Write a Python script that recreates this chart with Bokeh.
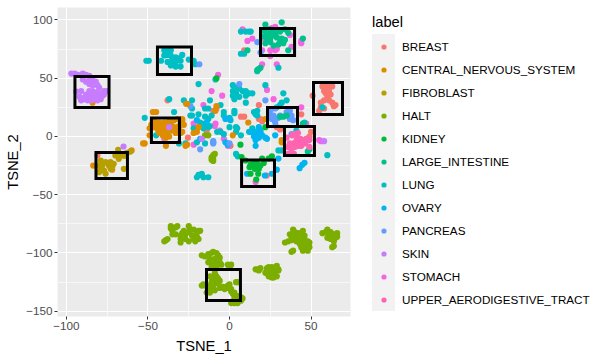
from bokeh.plotting import figure
from bokeh.models import Range1d, FixedTicker, Legend, LegendItem, ColumnDataSource
from bokeh.embed import file_html
from bokeh.resources import INLINE

BREAST = [(51,35),(57,43),(60,43),(63,43),(58,39),(61,39),(60,34),(58,31),(61,31),(63,29),(65,27),(56,29),(56,25),(55,22),(64,26),(58,24),(59,37),(62,36),
          (9,74),(7,17),(9,17),(18,27),(19,15),(18,15),(-10,22),(-18,9),(-25.5,-1),(0.6,-8),(-38,31),(44,19),(29,8),(31,6),(50,4),(49,0),(22.8,-33.5),(-8,24),(-14,5),(20,13),(-81,-16)]
CNS = [(-47,21),(-45,21),(-46,13),(-48,10),(-49,7),(-46,8),(-44,9),(-44,6),(-42,10),(-40,12),(-37,13),(-34,14),(-36,10),(-39,8),(-41,5),(-43,3),(-40,2),(-38,4),(-36,5),(-34,8),(-33,6),(-31,9),(-29,14),(-33,3),(-30,3),(-31,8),(-37,0),(-41,1),(-39,-1),(-49,1),(-35,7),(-42,7),(-38,9),(-43,12),(-52,-6),(-39,-8),(-26,-7),(-32,15),
       (-26.6,28),(-78,35),(-84,29),(-86,46),(-26,28),(-29,15),(-28,10),(-29,4),(-27,-8),(-8,26),(-8.6,22),(-19,8),(-20,4),(-22,3),(2,1),(11.5,12),(22,15),(32,-3),(32,-5),(-72,-28.5),(-64.5,-16.5),(-60,-12),(-53,-6),(-83.6,-25)]
FIBROBLAST = [(-68.3,-11.4),(-70,-16.3),(-66.9,-16.3),(-67.9,-19.2),(-64.8,-16.3),(-79,-20.6),(-76,-22),(-73,-22),(-74,-24.9),(-79,-27.8),(-77,-29.2),(-76,-32),(-73,-27.8),(-80,-30.6),(-64.8,-27.8),(-72,-26.3),(-71,-23.4),(-78,-24.9),(-80,-25),(-61,-13),(-63,-14)]
HALT = [(-40,-90),(-39,-89),(-38,-88),(-36,-77),(-36,-79),(-35,-81),(-33,-78),(-32,-77),(-35,-84),(-33,-84),(-30,-85),(-29,-83),(-28,-81),(-30,-88),(-30,-91),(-27,-84),(-27,-88),(-25,-90),(-25,-82),(-25,-77),(-24,-80),(-23,-85),(-22,-80),(-22,-88),(-20,-82),(-20,-86),(-19,-81),(-18,-81),(-21,-90),(-19,-88),
        (-17,-102),(-15,-103),(-13,-101),(-11,-100),(-10,-99),(-8,-100),(-7,-102),(-6,-104),(-12,-105),(-9,-105),(-7,-106),(-6,-108),(-13,-108),(-10,-109),(-8,-110),(-5,-110),(-11,-112),(-8,-113),(-1,-110),(1,-110),(0,-112),
        (-9,-117),(-8,-120),(-12,-120),(-11,-121),(-9,-123),(-7,-122),(-11,-125),(-9,-126),(-7,-126),(-6,-124),(-17,-128),(-16,-127),(-15,-128),(-12,-128),(-10,-129),(-12,-131),(-9,-132),(-14,-134),(-12,-134),(-6,-130),(-4,-129),(-3,-130),(-1,-128),(-1,-130),(0,-127),(0,-130),(-3,-131),(1,-131),(1,-133),(2,-135),(3,-134),(4,-125),(5,-125),(5,-137),(6,-137),(7,-138),(8,-139),(6,-140),(4,-141),(3,-143),(1,-143),(5,-143),(7,-141),(3,-139),
        (16,-114),(17,-114),(18,-115),(19,-113),(23,-113),(24,-112),(26,-112),(23,-115),(25,-115),(27,-113),(28,-116),(22,-117),(24,-118),(26,-117),(28,-119),(25,-120),(26,-121),(24,-120),(27,-121),(29,-120),(30,-114),(29,-111),(30,-115),
        (34,-91),(36,-90),(38,-89),(38,-86),(37,-84),(39,-85),(39,-80),(40,-82),(41,-87),(41,-90),(43,-85),(43,-88),(44,-83),(45,-81),(46,-85),(46,-88),(44,-92),(46,-92),(48,-90),(49,-91),(48,-94),(46,-96),(44,-95),(45,-98),(48,-98),(49,-95),(38,-99),(39,-98),(43,-92),(42,-83),
        (57,-83),(59,-82),(60,-80),(61,-85),(62,-82),(63,-85),(63,-88),(64,-84),(65,-84),(65,-87),(66,-86),(66,-83),(62,-88),(60,-87),(64,-90),(63,-95),(64,-94),
        (-11,-18),(-10,-19),(-11,-20),(-10,-16),(-9,-15),(-10,-21),(-15,1),(-13,1)]
KIDNEY = [(7.4,-17.7),(9.8,-20.6),(12.3,-26.3),(14.9,-23.5),(17,-23.5),(20,-19),(21,-22.7),(24,-19),(26,-17),(15.5,-27.8),(17.6,-32),(16.4,-37),(12.9,-32),(18,-27.8),(6.7,-7),(-8,50),(22,8),(16,-25),(13,-24),(19,-25)]
LARGE_INTESTINE = [(22,96),(32,98),(21,91),(23,90),(25,88),(28,88),(31,90),(34,92),(36,89),(23,87),(29,85),(32,84),(31,81),(33,80),(30,79),(23,84),(25,81),(27,78),(36,74),(22,80),(45,84),(11,74),(18,58),(17,57),(19,59),(25,84),(27,87),(34,83),(24,92),(27,91),(21,86),
                   (33,17),(35,18),(31,17),(45,11),(49,-11),(48,-13)]
LUNG = [(-51,65),(-49.5,65),(-42,65),(-40,74),(-38,74),(-36,74),(-40,69.5),(-38,70),(-36,69.5),(-35,67),(-33,68),(-31,67),(-29,70),(-38,64),(-35,64),(-33,64),(-30,65),(-36,61),(-33,60),(-30,60),(-25,66),(-22,65),(-21,62),(-19,45),(-37,32),(-28,31),(-23,31),(-23,24),(-24,18),(-34,21),(-52,16),(-45,1),(-31,-6),(-27,-6),(-19,-33),
        (7,90),(10,90),(12,90),(13,90),(7,71),(9,71),(17,56),(30,59),(-8.6,49),(2,44),(4,42),(6,41),(2,39),(2,35),(4,37),(6,34),(3,32),(8,39),(10,39),(10,35),(12,37),(14,37),(10,29),(22,44),(33,37),(35,31),(32,29),(31,27),(29,25),(-12,31),(-5.5,27),(-15,24),(-13,24),(-19,19),(-23,18),(-3.5,21),(-3.5,18),(3,22),(3,20),(15,21),(16,19),(17,18),(17,22),(-15,17),(-13,15),(-11,18),(-18,12),(-15,11),(-12,9),(-16,7),(-22,7),(-13,8),(-7.6,4),(-5.5,4),(-3.5,2),(0,16),(0.6,14),(0,8),(4,8),(4.7,7),(7,1),(4,4),(12,4),(14,7),(-15,-6),(-20,-5),(-1.4,-6),(4,-15),(5,-17),(-18,-33),(-17,-32),(-16,-35),(-13,-35),(-20,-35),(41,5),(30,-12),(32,-12),(60,-16),(57,25),(46,12)]
OVARY = [(18,8),(19,5),(16,4),(17,1),(20,1),(22,-1),(16,-3),(16,-8),(23,-2),(28,1),(-20,14),(-2.5,15),(0,15),(26,-32),(29,-28.5),(30,-19),(10.8,-32),(21.7,-33.5),(44.6,-24.3),(46,-22.6),(43,-27.2),(-14,12),(-18,-2),(-10,-5),(-2.5,-5),(-1,-7),(13,4),(19,3),(18,-1),(15,0)]
PANCREAS = [(25,22),(28,24),(35,21),(37,22),(25,18),(27,18),(28,15),(30,16),(35,18),(37,15),(39,14),(38,18),(31,18),(28,12),(22,31),(6,45),(-24,26),(-18.5,62),(28,91),(19,72),(17,81),(38,2),(-10,-4),(-18,-11),(0,-6),(-10,-6),(26,15)]
SKIN = [(-97,54),(-95,54),(-93,53),(-90,54),(-88,53),(-86,52),(-90,49),(-88,47),(-86,48),(-84,48),(-82,47),(-86,45),(-84,44),(-81,44),(-80,42),(-77,39),(-75,39),(-78,37),(-94,38.5),(-91,39),(-86,39),(-84,39),(-81,38),(-83,36),(-85,35),(-87,34),(-81,34),(-79,34),(-77,36),(-92,34),(-91,31),(-89,32),(-87,31),(-85,31),(-83,32),(-81,31),(-79,32),(-90,33),(-86,37),(-88,36),(-65,-8.6),(-37,8),(-17,-2),(58,-4)]
STOMACH = [(8,92),(11,82),(14,84),(20,62),(29,62),(-7,53),(-11,39),(-4.5,35),(23,40),(27,32),(44,25),(-16,27),(-22,11),(-8.6,11),(-9,9),(-22,-7),(-3.5,-2),(-6,5),(-1,-8),(44,82),(44,80),(37,87),(25,69),(21,84),(28,94),(26,93),(20,74),(25,74),(28,74),(29,75),(38,77),(47,11),(55,-3),(56,-4),(-36,12),(-40,-2),(16,-39)]
UPPER_AERODIGESTIVE_TRACT = [(40,2),(41.5,-2),(39.5,-6),(40,-9),(37,-6),(36,-9),(36,-15),(39.5,-15),(43.5,-2),(45.6,-3),(44,-8),(46.6,-6),(49,-9),(42.5,-8),(49,-3),(47,-2),(38.5,1),(35,-1),(41,-4),(44,-5),(42,3),(38,-11)]

LABELS = ["BREAST","CENTRAL_NERVOUS_SYSTEM","FIBROBLAST","HALT","KIDNEY","LARGE_INTESTINE","LUNG","OVARY","PANCREAS","SKIN","STOMACH","UPPER_AERODIGESTIVE_TRACT"]
SERIES = [BREAST,CNS,FIBROBLAST,HALT,KIDNEY,LARGE_INTESTINE,LUNG,OVARY,PANCREAS,SKIN,STOMACH,UPPER_AERODIGESTIVE_TRACT]
COLORS = ["#F8766D","#DE8C00","#B79F00","#7CAE00","#00BA38","#00C08B","#00BFC4","#00B4F0","#619CFF","#C77CFF","#F564E3","#FF64B0"]
DRAW_ORDER = [0,10,6,7,8,1,2,3,4,5,9,11]

BOX_LEFT = [-94.8,-44.2,-47.9,-81.9,19,51.5,23.3,33.7,7.4,-14.1]
BOX_RIGHT = [-73.9,-23.3,-30.7,-62.6,39.9,69.3,41.7,52.1,27.6,6.7]
BOX_TOP = [51.5,76.8,15.9,-13.7,92.7,46.4,24.9,8.6,-20.2,-114.2]
BOX_BOTTOM = [24.9,53.2,-5.2,-36,69.5,18.9,8.6,-16.3,-42.9,-140.8]

XTICKS = [-100,-50,0,50]
XMINOR = [-75,-25,25]
YTICKS = [-150,-100,-50,0,50,100]
YMINOR = [-125,-75,-25,25,75]

FONT = "Liberation Sans"

p = figure(width=607, height=361, output_backend="svg", toolbar_location=None, tools="",
           x_range=Range1d(-105.5,74.2), y_range=Range1d(-154.5,110.7),
           frame_width=293, frame_height=309, x_axis_label="TSNE_1", y_axis_label="TSNE_2",
           min_border_left=57, min_border_top=7, min_border_right=257, min_border_bottom=45,
           margin=(0,0,0,0),
           styles={"background": "linear-gradient(#F2F2F2,#F2F2F2) 372px 34px / 23px 277px no-repeat #FFFFFF"})
p.background_fill_color = "#EBEBEB"
p.border_fill_alpha = 0
p.outline_line_color = None

p.xaxis.ticker = FixedTicker(ticks=XTICKS, minor_ticks=XMINOR)
p.yaxis.ticker = FixedTicker(ticks=YTICKS, minor_ticks=YMINOR)
for ax in (p.xaxis[0], p.yaxis[0]):
    ax.axis_line_color = None
    ax.major_tick_line_color = "#333333"
    ax.major_tick_line_width = 1
    ax.major_tick_out = 3
    ax.major_tick_in = 0
    ax.minor_tick_out = 0
    ax.minor_tick_in = 0
    ax.major_label_text_font = FONT
    ax.major_label_text_font_size = "11.7px"
    ax.major_label_text_color = "#4D4D4D"
    ax.major_label_standoff = 2
    ax.axis_label_text_font = FONT
    ax.axis_label_text_font_size = "14.7px"
    ax.axis_label_text_font_style = "normal"
    ax.axis_label_text_color = "#000000"
p.xaxis[0].axis_label_standoff = 5
p.yaxis[0].axis_label_standoff = 2
for g in (p.xgrid[0], p.ygrid[0]):
    g.grid_line_color = "#FFFFFF"
    g.grid_line_width = 1.1
    g.minor_grid_line_color = "#FFFFFF"
    g.minor_grid_line_width = 0.6

renderers = {}
for i in DRAW_ORDER:
    pts = SERIES[i]
    src = ColumnDataSource(dict(x=[a for a, _ in pts], y=[b for _, b in pts]))
    renderers[i] = p.scatter("x", "y", source=src, size=6.2, fill_color=COLORS[i], line_color=COLORS[i], line_width=0)
items = [LegendItem(label=LABELS[i], renderers=[renderers[i]]) for i in range(len(LABELS))]

p.quad(left=BOX_LEFT, right=BOX_RIGHT, top=BOX_TOP, bottom=BOX_BOTTOM,
       fill_color=None, line_color="#000000", line_width=3, line_join="miter")

leg = Legend(items=items, title="label", location=(22, 10), orientation="vertical",
             glyph_width=23, glyph_height=13, spacing=10, label_standoff=7, padding=0, margin=0,
             label_height=13, background_fill_alpha=0, border_line_color=None,
             label_text_font=FONT, label_text_font_size="11.7px", label_text_color="#000000",
             title_text_font=FONT, title_text_font_size="14.7px", title_text_font_style="normal",
             title_text_color="#000000", title_standoff=10)
p.add_layout(leg, "right")

open("out.html", "w").write(file_html(p, INLINE))
